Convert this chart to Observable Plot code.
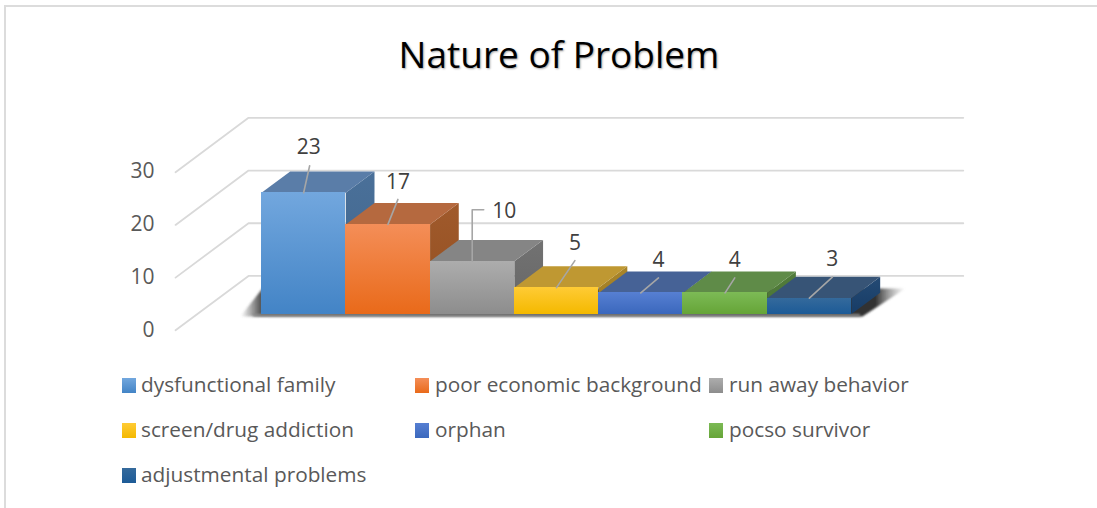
<!DOCTYPE html>
<html>
<head>
<meta charset="utf-8">
<script src="https://cdn.jsdelivr.net/npm/d3@7"></script>
<script src="https://cdn.jsdelivr.net/npm/@observablehq/plot@0.6"></script>
<style>
html,body{margin:0;padding:0;background:#fff}
#page{position:relative;width:1097px;height:508px;overflow:hidden;font-family:"Open Sans",sans-serif}
#frameT{position:absolute;left:4px;top:5px;right:0;height:2px;background:#dcdcdc}
#frameL{position:absolute;left:4px;top:5px;bottom:0;width:2px;background:#dcdcdc}
#title{position:absolute;left:0;top:0;width:1118px;height:100px;line-height:107px;text-align:center;font-size:37px;color:#000;text-shadow:1px 1px 2px rgba(0,0,0,.35)}
#chart{position:absolute;left:0;top:100px}
.lg{position:absolute;font-size:20.8px;line-height:24px;color:#595959;white-space:nowrap}
.sw{position:absolute;width:14px;height:15px}
</style>
</head>
<body>
<div id="page">
  <div id="frameT"></div><div id="frameL"></div>
  <div id="title"></div>
  <div id="chart"></div>
</div>
<script>
const chartTitle = "Nature of Problem";
const categories = ["dysfunctional family","poor economic background","run away behavior","screen/drug addiction","orphan","pocso survivor","adjustmental problems"];
const values = [23,17,10,5,4,4,3];
const yTicks = [0,10,20,30];

// appearance of each category: [front top, front bottom, top face, side top, side bottom]
const palette = [
  ["#72a7de","#4384c6","#5a7da8","#4a7099","#40658c"],
  ["#f48e58","#e96a1a","#b5693f","#a05a2c","#934f20"],
  ["#adadad","#8d8d8d","#858585","#727272","#666666"],
  ["#ffcb35","#f4b900","#bf9832","#a9852a","#a07c20"],
  ["#567fd2","#3b68bd","#466296","#3d5688","#34507f"],
  ["#7cba55","#66a538","#5f8b48","#527c3c","#4a7533"],
  ["#356a9c","#1d5b97","#375476","#244a74","#173c66"]
];

// 3D layout, in units of the scales: d is depth from the wall front (0) to the wall back (1)
const barFront = 0.3, barBack = 0.693;
const depthX = 0.866, depthY = 10.32;
const wallX = -0.76, wallEndX = 7.72;
const pxX = 590 / 7, pxY = 158.1 / 30;
const P = (x, v, d) => ({x: x + (d - barFront) * depthX, y: v + (d - barFront) * depthY});
const off = (x, v, px, py) => ({x: x + px / pxX, y: v - py / pxY});

// leader route and label, as pixel offsets from the centre of each bar's front top edge
const leaders = [
  {route: [[6,-27]], label: [5,-46]},
  {route: [[10,-25]], label: [10,-42]},
  {route: [[0,-51.5],[11.5,-51.5]], label: [32,-50]},
  {route: [[18.4,-27]], label: [18.4,-44]},
  {route: [[17.7,-15]], label: [17.7,-33]},
  {route: [[9.7,-15]], label: [9.7,-33]},
  {route: [[23,-21]], label: [23,-39]}
];

const defs = () => {
  const d = d3.create("svg:defs");
  const grad = (id, stops, horizontal) => {
    const g = d.append("linearGradient").attr("id", id).attr("x1",0).attr("y1",0)
      .attr("x2", horizontal ? 1 : 0).attr("y2", horizontal ? 0 : 1);
    stops.forEach(([o,c,a]) => g.append("stop").attr("offset",o).attr("stop-color",c).attr("stop-opacity",a ?? 1));
  };
  palette.forEach((p,i) => {
    grad("front"+i, [[0,p[0]],[1,p[1]]]);
    grad("side"+i, [[0,p[3]],[1,p[4]]]);
  });
  grad("shadowFill", [[0,"#555",0],[0.03,"#444",0.9],[0.955,"#333",1],[1,"#777",0]], true);
  const f = d.append("filter").attr("id","soft").attr("x","-5%").attr("y","-150%").attr("width","110%").attr("height","400%");
  f.append("feGaussianBlur").attr("stdDeviation",1.3);
  return d.node();
};

const soft = (i, s, v, dim, ctx, next) => {
  const g = next(i, s, v, dim, ctx);
  g.setAttribute("filter", "url(#soft)");
  return g;
};

const poly = (points, fill, opts = {}) => Plot.line(points, {x:"x", y:"y", fill, stroke:"none", ...opts});
const marks = [defs];

// walls
yTicks.forEach(t => {
  const wall = [P(wallX,t,0), P(wallX,t,1), P(wallEndX,t,1)];
  marks.push(Plot.line(wall, {x:"x", y:"y", stroke:"#d9d9d9", strokeWidth:1.8, curve:"linear"}));
  marks.push(Plot.text([String(t)], {
    x: wallX + barFront * -depthX, y: t - barFront * depthY, text: d => d,
    textAnchor:"end", dx:-21, dy:-0.5, fontSize:21, fill:"#595959", fontFamily:"Open Sans"
  }));
});

// shadow
const n = categories.length;
marks.push(poly([{x:-0.25,y:-0.47},{x:n+0.13,y:-0.47},{x:n+0.64,y:4.84},{x:0.01,y:4.84}], "url(#shadowFill)", {render:soft}));
marks.push(poly([{x:-0.1,y:-0.45},{x:n+0.1,y:-0.45},{x:n+0.1,y:0},{x:-0.1,y:0}], "#8a8a8a", {render:soft}));

// bars, left to right so that each one overlaps its neighbour's side
values.forEach((v,i) => {
  marks.push(poly([P(i+1,0,barFront),P(i+1,0,barBack),P(i+1,v,barBack),P(i+1,v,barFront)], `url(#side${i})`));
  marks.push(poly([P(i,v,barFront),P(i+1,v,barFront),P(i+1,v,barBack),P(i,v,barBack)], palette[i][2]));
  marks.push(Plot.rectY([v], {x1:i, x2:i+1, y1:0, y2:d=>d, fill:`url(#front${i})`, shapeRendering:"crispEdges"}));
});

// leaders and labels
values.forEach((v,i) => {
  const cx = i + 0.5, l = leaders[i];
  const route = [{x:cx,y:v}, ...l.route.map(([a,b]) => off(cx,v,a,b))];
  marks.push(Plot.line(route, {x:"x", y:"y", stroke:"#a6a6a6", strokeWidth:1.6, curve:"linear"}));
  const at = off(cx,v,l.label[0],l.label[1]);
  marks.push(Plot.text([String(v)], {x:at.x, y:at.y, text:d=>d, fontSize:21, fill:"#404040", fontFamily:"Open Sans"}));
});

const chart = Plot.plot({
  width: 1097, height: 265, margin: 0,
  style: {background:"transparent", overflow:"visible"},
  x: {type:"linear", domain:[0,7], range:[261,851], axis:null},
  y: {type:"linear", domain:[0,30], range:[213.5,55.4], axis:null},
  marks
});
document.getElementById("chart").appendChild(chart);
document.getElementById("title").textContent = chartTitle;

// legend
const page = document.getElementById("page");
const colX = [122,415,709], rowY = [385.5,430.5,475.5];
categories.forEach((c,i) => {
  const col = i % 3, row = Math.floor(i / 3);
  const sw = document.createElement("div");
  sw.className = "sw";
  sw.style.left = colX[col]+"px";
  sw.style.top = (rowY[row]-7.5)+"px";
  sw.style.background = `linear-gradient(${palette[i][0]},${palette[i][1]})`;
  const t = document.createElement("div");
  t.className = "lg";
  t.textContent = c;
  t.style.left = (colX[col]+(col===0?19:20))+"px";
  t.style.top = (rowY[row]-13.5)+"px";
  page.appendChild(sw); page.appendChild(t);
});
</script>
</body>
</html>
